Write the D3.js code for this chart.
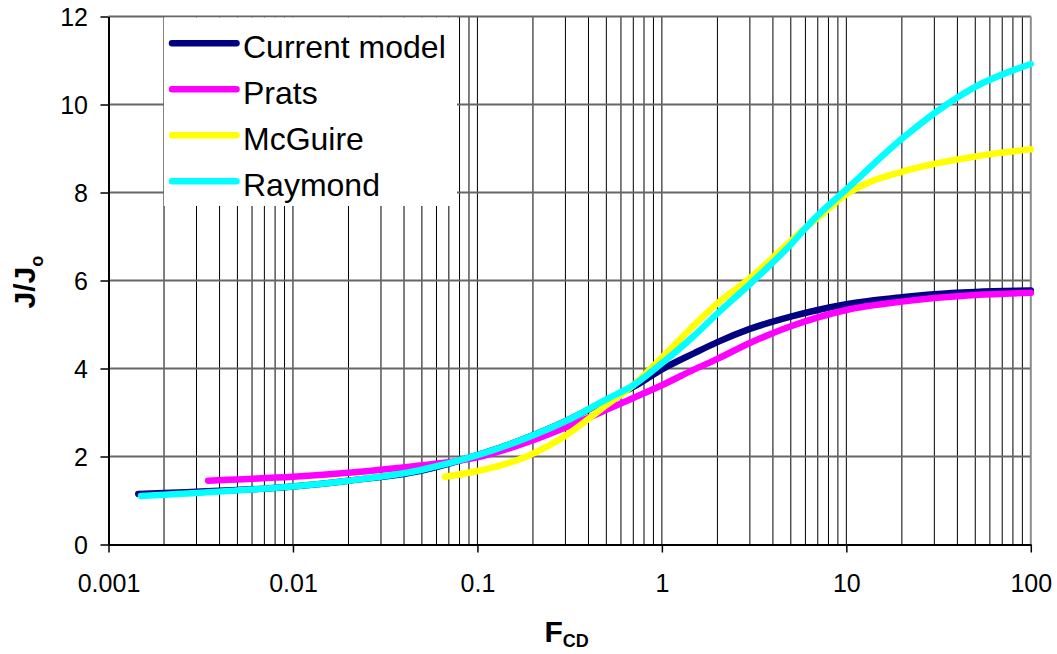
<!DOCTYPE html>
<html>
<head>
<meta charset="utf-8">
<script src="https://cdn.jsdelivr.net/npm/d3@7"></script>
<style>
  html, body { margin: 0; padding: 0; background: #fff; }
  svg { display: block; font-family: Arial, "Liberation Sans", sans-serif; }
</style>
</head>
<body>
<svg id="chart" width="1057" height="654"></svg>
<script>
// Productivity ratio J/Jo versus dimensionless fracture conductivity FCD

const seriesNames = ["Current model", "Prats", "McGuire", "Raymond"];
const seriesColors = ["#000080", "#FF00FF", "#FFFF00", "#00FFFF"];

const fcdCurrent = [0.00145, 0.002, 0.003, 0.005, 0.007, 0.01, 0.02, 0.05, 0.1, 0.2, 0.3, 0.5, 0.7, 1, 1.5, 2, 3, 5, 7, 10, 20, 30, 50, 100];
const jCurrent   = [1.15, 1.17, 1.20, 1.24, 1.27, 1.32, 1.45, 1.68, 2.03, 2.48, 2.80, 3.28, 3.58, 3.98, 4.35, 4.60, 4.90, 5.18, 5.33, 5.46, 5.62, 5.69, 5.74, 5.77];

const fcdPrats = [0.00347, 0.005, 0.01, 0.02, 0.05, 0.1, 0.2, 0.3, 0.5, 0.7, 1, 1.5, 2, 3, 5, 10, 20, 30, 50, 100];
const jPrats   = [1.45, 1.48, 1.54, 1.63, 1.80, 1.98, 2.37, 2.66, 3.06, 3.33, 3.62, 3.98, 4.22, 4.58, 4.96, 5.33, 5.52, 5.60, 5.67, 5.72];

const fcdMcGuire = [0.0667, 0.1, 0.185, 0.3, 0.5, 0.7, 1, 2, 3, 5, 6.1, 7, 10, 20, 30, 50, 100];
const jMcGuire   = [1.54, 1.67, 2.0, 2.47, 3.17, 3.62, 4.25, 5.48, 6.05, 6.90, 7.22, 7.42, 7.96, 8.47, 8.65, 8.82, 8.98];

const fcdRaymond = [0.0015, 0.002, 0.003, 0.005, 0.01, 0.02, 0.05, 0.1, 0.2, 0.3, 0.5, 0.7, 1, 1.5, 2, 3, 5, 6.1, 7, 10, 20, 35, 50, 100];
const jRaymond   = [1.10, 1.13, 1.17, 1.23, 1.32, 1.45, 1.70, 2.03, 2.48, 2.80, 3.30, 3.62, 4.12, 4.75, 5.25, 5.92, 6.82, 7.22, 7.48, 8.07, 9.22, 10.0, 10.4, 10.92];

const xTickValues = [0.001, 0.01, 0.1, 1, 10, 100];
const xTickLabels = ["0.001", "0.01", "0.1", "1", "10", "100"];
const yTickValues = [0, 2, 4, 6, 8, 10, 12];

const series = [
  { name: seriesNames[0], color: seriesColors[0], f: fcdCurrent, j: jCurrent },
  { name: seriesNames[1], color: seriesColors[1], f: fcdPrats,   j: jPrats },
  { name: seriesNames[2], color: seriesColors[2], f: fcdMcGuire, j: jMcGuire },
  { name: seriesNames[3], color: seriesColors[3], f: fcdRaymond, j: jRaymond }
];

const svg = d3.select("#chart");
const plot = { left: 108.5, right: 1030.8, top: 16.5, bottom: 544.5 };

const x = d3.scaleLog().domain([0.001, 100]).range([plot.left, plot.right]);
const y = d3.scaleLinear().domain([0, 12]).range([plot.bottom, plot.top]);

// minor + major vertical grid lines (1..9 per decade)
const vGrid = [];
for (let e = -3; e < 2; e++) {
  for (let m = 1; m <= 9; m++) vGrid.push(m * Math.pow(10, e));
}
const g = svg.append("g");
g.selectAll("line.vg").data(vGrid.filter(v => v > 0.001)).join("line")
  .attr("x1", d => x(d)).attr("x2", d => x(d))
  .attr("y1", plot.top).attr("y2", plot.bottom)
  .attr("stroke", "#000").attr("stroke-width", 1);

// horizontal grid lines
g.selectAll("line.hg").data(yTickValues.filter(v => v > 0)).join("line")
  .attr("x1", plot.left).attr("x2", plot.right)
  .attr("y1", d => y(d)).attr("y2", d => y(d))
  .attr("stroke", "#666").attr("stroke-width", 2);

// right border of the plot area
g.append("line")
  .attr("x1", plot.right).attr("x2", plot.right)
  .attr("y1", plot.top).attr("y2", plot.bottom)
  .attr("stroke", "#8c8c8c").attr("stroke-width", 2);

// axes
const xAxis = d3.axisBottom(x).tickValues(xTickValues)
  .tickFormat((d, i) => xTickLabels[i]).tickSize(8).tickSizeOuter(0);
const gx = svg.append("g").attr("transform", `translate(0,${plot.bottom})`).call(xAxis);
gx.select(".domain").attr("stroke", "#000").attr("stroke-width", 2);
gx.selectAll(".tick line").attr("stroke", "#000").attr("stroke-width", 1.5);
gx.selectAll(".tick text").attr("font-size", 25).attr("font-family", "Arial, 'Liberation Sans', sans-serif")
  .attr("fill", "#000").attr("dy", null).attr("y", 47.5);

const yAxis = d3.axisLeft(y).tickValues(yTickValues).tickSize(8).tickSizeOuter(0);
const gy = svg.append("g").attr("transform", `translate(${plot.left},0)`).call(yAxis);
gy.select(".domain").attr("stroke", "#000").attr("stroke-width", 2);
gy.selectAll(".tick line").attr("stroke", "#000").attr("stroke-width", 1.5);
gy.selectAll(".tick text").attr("font-size", 25).attr("font-family", "Arial, 'Liberation Sans', sans-serif")
  .attr("fill", "#000").attr("x", -20.5).attr("dy", "0.36em");

// curves
const line = d3.line().x(d => x(d[0])).y(d => y(d[1])).curve(d3.curveMonotoneX);
const curves = svg.append("g");
series.forEach(s => {
  const pts = s.f.map((f, i) => [f, s.j[i]]);
  curves.append("path")
    .attr("d", line(pts))
    .attr("fill", "none")
    .attr("stroke", s.color)
    .attr("stroke-width", 6.5)
    .attr("stroke-linecap", "round")
    .attr("stroke-linejoin", "round");
});

// legend
const legend = svg.append("g");
legend.append("rect")
  .attr("x", 164).attr("y", 17.5).attr("width", 293).attr("height", 188.5)
  .attr("fill", "#fff");
series.forEach((s, i) => {
  const cy = 43.3 + i * 46;
  legend.append("line")
    .attr("x1", 172).attr("x2", 236.5).attr("y1", cy).attr("y2", cy)
    .attr("stroke", s.color).attr("stroke-width", 6.5).attr("stroke-linecap", "round");
  legend.append("text")
    .attr("x", 243).attr("y", cy + 14.5)
    .attr("font-size", 32).attr("fill", "#000")
    .text(s.name);
});

// axis titles
const yTitle = svg.append("text")
  .attr("transform", "translate(35,308.5) rotate(-90)")
  .attr("font-size", 30).attr("font-weight", "bold").attr("fill", "#000");
yTitle.append("tspan").text("J/J");
yTitle.append("tspan").attr("font-size", 18).attr("dy", 8).text("o");

const xTitle = svg.append("text")
  .attr("x", 544.5).attr("y", 641.5)
  .attr("font-size", 30).attr("font-weight", "bold").attr("fill", "#000");
xTitle.append("tspan").text("F");
xTitle.append("tspan").attr("font-size", 18).attr("dy", 5).text("CD");
</script>
</body>
</html>
